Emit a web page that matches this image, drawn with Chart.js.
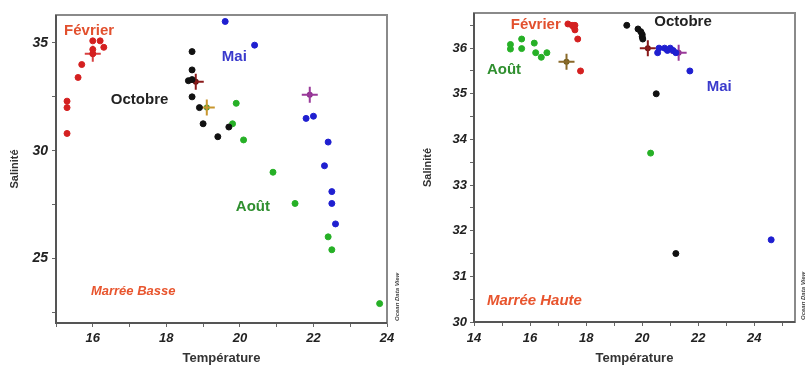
<!DOCTYPE html>
<html>
<head>
<meta charset="utf-8">
<script src="https://cdn.jsdelivr.net/npm/chart.js@4.4.1/dist/chart.umd.min.js"></script>
<style>
  html, body { margin: 0; padding: 0; background: #fff; }
  #wrap { position: relative; width: 805px; height: 366px; overflow: hidden; }
  #basse { position: absolute; left: 0; top: 0; }
  #haute { position: absolute; left: 400px; top: 0; }
</style>
</head>
<body>
<div id="wrap">
  <canvas id="basse" width="400" height="366"></canvas>
  <canvas id="haute" width="405" height="366"></canvas>
</div>
<script>
// Marée basse : [température, salinité]
var basseFevrier = [[15.3,30.8],[15.3,32.0],[15.3,32.3],[15.6,33.4],[15.7,34.0],[16.0,34.5],[16.0,34.7],[16.0,35.1],[16.2,35.1],[16.3,34.8]];
var basseOctobre = [[18.7,34.6],[18.7,33.75],[18.6,33.25],[18.7,33.3],[18.7,32.5],[18.9,32.0],[19.0,31.25],[19.4,30.65],[19.7,31.1]];
var basseMai = [[19.6,36.0],[20.4,34.9],[21.8,31.5],[22.0,31.6],[22.4,30.4],[22.3,29.3],[22.5,28.1],[22.5,27.55],[22.6,26.6]];
var basseAout = [[19.9,32.2],[19.8,31.25],[20.1,30.5],[20.9,29.0],[21.5,27.55],[22.4,26.0],[22.5,25.4],[23.8,22.9]];
var basseMoyennes = [[16.0,34.5],[18.8,33.2],[19.1,32.0],[21.9,32.6]];
var basseMoyCouleurs = ['#d84040','#8a1a1a','#c8962e','#9a3a9a'];
var basseMoyCentres = ['#d42020','#5a1010','#4a9a2a','#8a2a8a'];

// Marée haute
var hauteFevrier = [[17.35,36.53],[17.5,36.5],[17.55,36.47],[17.6,36.5],[17.6,36.4],[17.7,36.2],[17.8,35.5]];
var hauteOctobre = [[19.45,36.5],[19.85,36.42],[19.95,36.36],[20.0,36.3],[20.0,36.25],[20.02,36.2],[20.5,35.0],[21.2,31.5]];
var hauteMai = [[20.55,35.9],[20.6,36.0],[20.8,36.0],[20.9,35.95],[21.0,36.0],[21.1,35.95],[21.2,35.9],[21.7,35.5],[24.6,31.8]];
var hauteAout = [[15.3,36.08],[15.3,35.98],[15.7,36.2],[15.7,35.99],[16.15,36.11],[16.2,35.9],[16.4,35.8],[16.6,35.9],[20.3,33.7]];
var hauteMoyennes = [[20.2,36.0],[17.3,35.7],[21.3,35.9]];
var hauteMoyCouleurs = ['#8a1a1a','#8a6a2a','#9a3a9a'];
var hauteMoyCentres = ['#6a1010','#6a5a1a','#8a2a8a'];

// graduations
var basseTicksT = [15,16,17,18,19,20,21,22,23,24];
var basseLabelsT = [16,18,20,22,24];
var basseTicksS = [22.5,25,27.5,30,32.5,35];
var basseLabelsS = [25,30,35];
var hauteTicksT = [14,15,16,17,18,19,20,21,22,23,24,25];
var hauteLabelsT = [14,16,18,20,22,24];
var hauteTicksS = [30,30.5,31,31.5,32,32.5,33,33.5,34,34.5,35,35.5,36,36.5];
var hauteLabelsS = [30,31,32,33,34,35,36];

var couleurs = { fev: '#d42020', oct: '#111111', mai: '#1f1fd0', aout: '#26b026' };
var FONT = '"Liberation Sans", Arial, sans-serif';

function pts(arr) { return arr.map(function(p) { return {x: p[0], y: p[1]}; }); }

// cadre gris + textes posés en coordonnées des axes
var decor = {
    id: 'decor',
    beforeDatasetsDraw: function(chart, args, o) {
        var ctx = chart.ctx, xs = chart.scales.x, ys = chart.scales.y;
        ctx.save();
        o.textes.forEach(function(t) {
            ctx.font = t.font;
            ctx.fillStyle = t.color;
            ctx.textBaseline = 'middle';
            ctx.textAlign = 'left';
            ctx.fillText(t.text, xs.getPixelForValue(t.x), ys.getPixelForValue(t.y));
        });
        ctx.restore();
    },
    afterDraw: function(chart, args, o) {
        var ctx = chart.ctx, a = chart.chartArea;
        ctx.save();
        ctx.strokeStyle = '#8a8a8a';
        ctx.lineWidth = 2;
        ctx.strokeRect(a.left, a.top, a.right - a.left, a.bottom - a.top);
        ctx.strokeStyle = '#555';
        ctx.beginPath();
        ctx.moveTo(a.left, a.top);
        ctx.lineTo(a.left, a.bottom);
        ctx.lineTo(a.right, a.bottom);
        ctx.stroke();
        // filigrane
        ctx.translate(o.odvX, a.bottom);
        ctx.rotate(-Math.PI / 2);
        ctx.font = 'italic bold 6px ' + FONT;
        ctx.fillStyle = '#444';
        ctx.textBaseline = 'middle';
        ctx.fillText('Ocean Data View', 2, 0);
        ctx.restore();
    }
};

function axe(pos, min, max, ticks, labels, titre, tickSize, taille, titrePad, tickPad) {
    return {
        type: 'linear', position: pos, min: min, max: max,
        afterBuildTicks: function(s) { s.ticks = ticks.map(function(v) { return {value: v}; }); },
        afterFit: function(s) { if (pos === 'left') s.width = taille; else s.height = taille; },
        grid: { drawOnChartArea: false, drawTicks: true, tickLength: 4, color: '#666' },
        border: { display: false },
        ticks: {
            autoSkip: false, maxRotation: 0, padding: tickPad, color: '#222',
            font: { family: FONT, size: tickSize, style: 'italic', weight: 'bold' },
            callback: function(v) { return labels.indexOf(v) >= 0 ? String(v) : ''; }
        },
        title: {
            display: true, text: titre, color: '#333',
            padding: pos === 'left' ? {top: titrePad, bottom: 0} : {top: 0, bottom: titrePad},
            font: { family: FONT, size: pos === 'left' ? 11 : 13, weight: 'bold' }
        }
    };
}

function serie(data, color) {
    return { data: pts(data), backgroundColor: color, borderColor: color, borderWidth: 1, pointRadius: 3, pointHoverRadius: 3 };
}

function graphe(id, d) {
    return new Chart(id, {
        type: 'scatter',
        data: {
            datasets: [
                serie(d.fev, couleurs.fev),
                serie(d.oct, couleurs.oct),
                serie(d.mai, couleurs.mai),
                serie(d.aout, couleurs.aout),
                { data: pts(d.moy), pointStyle: 'cross', pointRadius: 8, borderWidth: 2,
                  borderColor: d.moyCouleurs, backgroundColor: d.moyCouleurs },
                { data: pts(d.moy), pointRadius: 3, borderWidth: 0, backgroundColor: d.moyCentres }
            ]
        },
        options: {
            responsive: false,
            animation: false,
            layout: { padding: d.padding },
            plugins: {
                legend: { display: false },
                tooltip: { enabled: false },
                decor: { textes: d.textes, odvX: d.odvX }
            },
            scales: { x: d.x, y: d.y }
        },
        plugins: [decor]
    });
}

graphe('basse', {
    fev: basseFevrier, oct: basseOctobre, mai: basseMai, aout: basseAout,
    moy: basseMoyennes, moyCouleurs: basseMoyCouleurs, moyCentres: basseMoyCentres,
    padding: { left: 0, top: 15, right: 13, bottom: 0 },
    odvX: 397,
    x: axe('bottom', 15, 24, basseTicksT, basseLabelsT, 'Température', 13, 43, 0, 4),
    y: axe('left', 22, 36.3, basseTicksS, basseLabelsS, 'Salinité', 14, 56, 8, 4),
    textes: [
        { text: 'Février', x: 15.22, y: 35.56, color: '#e2502e', font: 'bold 15px ' + FONT },
        { text: 'Mai', x: 19.51, y: 34.35, color: '#3a3acc', font: 'bold 15px ' + FONT },
        { text: 'Octobre', x: 16.49, y: 32.36, color: '#222', font: 'bold 15px ' + FONT },
        { text: 'Août', x: 19.89, y: 27.4, color: '#2f8f2f', font: 'bold 15px ' + FONT },
        { text: 'Marrée Basse', x: 15.95, y: 23.47, color: '#e8552e', font: 'italic bold 13px ' + FONT }
    ]
});

graphe('haute', {
    fev: hauteFevrier, oct: hauteOctobre, mai: hauteMai, aout: hauteAout,
    moy: hauteMoyennes, moyCouleurs: hauteMoyCouleurs, moyCentres: hauteMoyCentres,
    padding: { left: 0, top: 13, right: 6, bottom: 0 },
    odvX: 403,
    x: axe('bottom', 14, 25.45, hauteTicksT, hauteLabelsT, 'Température', 13, 44, 0, 5),
    y: axe('left', 30, 36.77, hauteTicksS, hauteLabelsS, 'Salinité', 13, 74, 21, 3),
    textes: [
        { text: 'Février', x: 15.31, y: 36.5, color: '#e2502e', font: 'bold 15px ' + FONT },
        { text: 'Octobre', x: 20.43, y: 36.57, color: '#222', font: 'bold 15px ' + FONT },
        { text: 'Août', x: 14.46, y: 35.52, color: '#2f8f2f', font: 'bold 15px ' + FONT },
        { text: 'Mai', x: 22.3, y: 35.15, color: '#3a3acc', font: 'bold 15px ' + FONT },
        { text: 'Marrée Haute', x: 14.46, y: 30.46, color: '#e8552e', font: 'italic bold 15px ' + FONT }
    ]
});
</script>
</body>
</html>
